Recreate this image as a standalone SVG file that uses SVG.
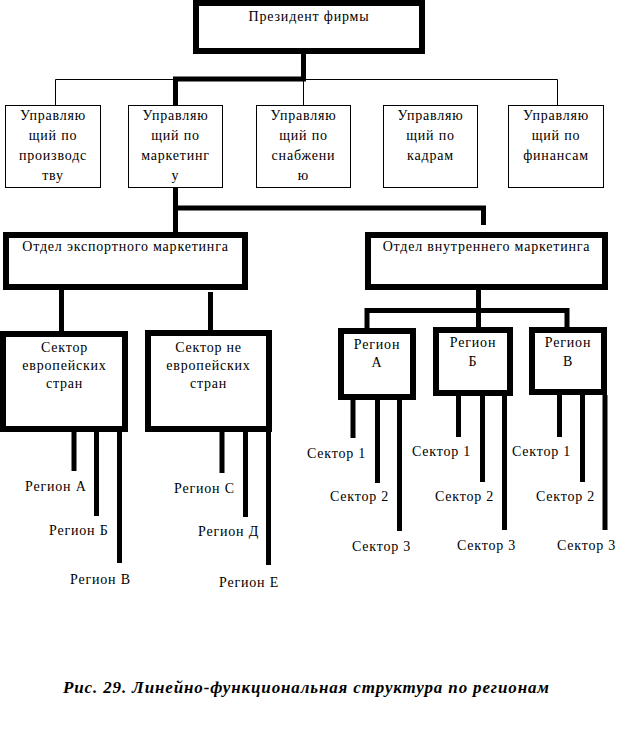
<svg xmlns="http://www.w3.org/2000/svg" width="633" height="746" viewBox="0 0 633 746" font-family="Liberation Serif, Tinos, Times New Roman, DejaVu Serif, serif">
<style>
text{font-family:"Liberation Serif",Tinos,"Times New Roman","DejaVu Serif",serif;font-size:14px;fill:#000;letter-spacing:0.8px}
.c{text-anchor:middle}
.thick{fill:#fff;stroke:#000;stroke-width:6}
.thin{fill:#fff;stroke:#000;stroke-width:1}
.ln{stroke:#000;stroke-width:5;fill:none}
.tl{stroke:#000;stroke-width:1;fill:none}
.cap{font-size:17px;font-weight:bold;font-style:italic;letter-spacing:0}
</style>
<rect width="633" height="746" fill="#fff"/>
<g id="connectors">
<path class="tl" d="M55.5,79.5H557.5M55.5,79.5V105.5M303.5,79.5V105.5M557.5,79.5V105.5"/>
<path class="ln" d="M303.5,51V81M173,79H306M175.5,77V105"/>
<path class="ln" d="M175.5,187V232M173,208H486M483.5,206V225"/>
<path class="ln" d="M61.5,290V333M210.5,292V331"/>
<path class="ln" d="M74,432V471M96.5,427V516M119.5,432V563M222,432V473M245.5,432V517M268.5,432V565"/>
<path class="ln" d="M478.5,290V328M365,310.5H569.5M367,308V330M567,308V332"/>
<path class="ln" d="M353,400V438M377.5,400V483M399.5,400V531M458.5,396V437M482.5,396V482M504.5,396V530M559.5,395V437M582.5,395V482M605,395V530"/>
</g>
<g id="president"><rect class="thick" x="196" y="3" width="226" height="48"/><text class="c" x="309" y="21" textLength="121">Президент фирмы</text></g>
<g id="m1"><rect class="thin" x="5.5" y="105.5" width="95" height="82"/><text class="c" x="53" y="120">Управляю</text><text class="c" x="53" y="140">щий по</text><text class="c" x="53" y="160">производс</text><text class="c" x="53" y="180">тву</text></g>
<g id="m2"><rect class="thin" x="128.5" y="105.5" width="94" height="82"/><text class="c" x="175.5" y="120">Управляю</text><text class="c" x="175.5" y="140">щий по</text><text class="c" x="175.5" y="160">маркетинг</text><text class="c" x="175.5" y="180">у</text></g>
<g id="m3"><rect class="thin" x="256.5" y="105.5" width="94" height="82"/><text class="c" x="303.5" y="120">Управляю</text><text class="c" x="303.5" y="140">щий по</text><text class="c" x="303.5" y="160">снабжени</text><text class="c" x="303.5" y="180">ю</text></g>
<g id="m4"><rect class="thin" x="383.5" y="105.5" width="94" height="82"/><text class="c" x="430.5" y="120">Управляю</text><text class="c" x="430.5" y="140">щий по</text><text class="c" x="430.5" y="160">кадрам</text></g>
<g id="m5"><rect class="thin" x="508.5" y="105.5" width="95" height="82"/><text class="c" x="556" y="120">Управляю</text><text class="c" x="556" y="140">щий по</text><text class="c" x="556" y="160">финансам</text></g>
<g id="export"><rect class="thick" x="6" y="235" width="239" height="52"/><text class="c" x="125.5" y="251">Отдел экспортного маркетинга</text></g>
<g id="internal"><rect class="thick" x="368" y="235" width="237" height="52"/><text class="c" x="486.5" y="251">Отдел внутреннего маркетинга</text></g>
<g id="euro"><rect class="thick" x="3" y="334" width="122" height="95"/><text class="c" x="64.5" y="352">Сектор</text><text class="c" x="64.5" y="370">европейских</text><text class="c" x="64.5" y="388">стран</text></g>
<g id="noneuro"><rect class="thick" x="148" y="333" width="121" height="96"/><text class="c" x="208.5" y="352">Сектор не</text><text class="c" x="208.5" y="370">европейских</text><text class="c" x="208.5" y="388">стран</text></g>
<g id="regA"><rect class="thick" x="341" y="331" width="72" height="66"/><text class="c" x="377" y="349">Регион</text><text class="c" x="377" y="367">А</text></g>
<g id="regB"><rect class="thick" x="436" y="330" width="74" height="63"/><text class="c" x="473" y="347">Регион</text><text class="c" x="473" y="366">Б</text></g>
<g id="regV"><rect class="thick" x="532" y="330" width="72" height="62"/><text class="c" x="568" y="347">Регион</text><text class="c" x="568" y="366">В</text></g>
<g id="labels">
<text x="25" y="491">Регион А</text>
<text x="49" y="535">Регион Б</text>
<text x="70" y="584">Регион В</text>
<text x="174" y="493">Регион С</text>
<text x="198" y="536">Регион Д</text>
<text x="219" y="587">Регион Е</text>
<text x="307" y="458">Сектор 1</text>
<text x="330" y="501">Сектор 2</text>
<text x="352" y="551">Сектор 3</text>
<text x="412" y="456">Сектор 1</text>
<text x="435" y="501">Сектор 2</text>
<text x="457" y="550">Сектор 3</text>
<text x="512" y="456">Сектор 1</text>
<text x="536" y="501">Сектор 2</text>
<text x="557" y="550">Сектор 3</text>
</g>
<text class="cap" x="63" y="693" textLength="486">Рис. 29. Линейно-функциональная структура по регионам</text>
</svg>
